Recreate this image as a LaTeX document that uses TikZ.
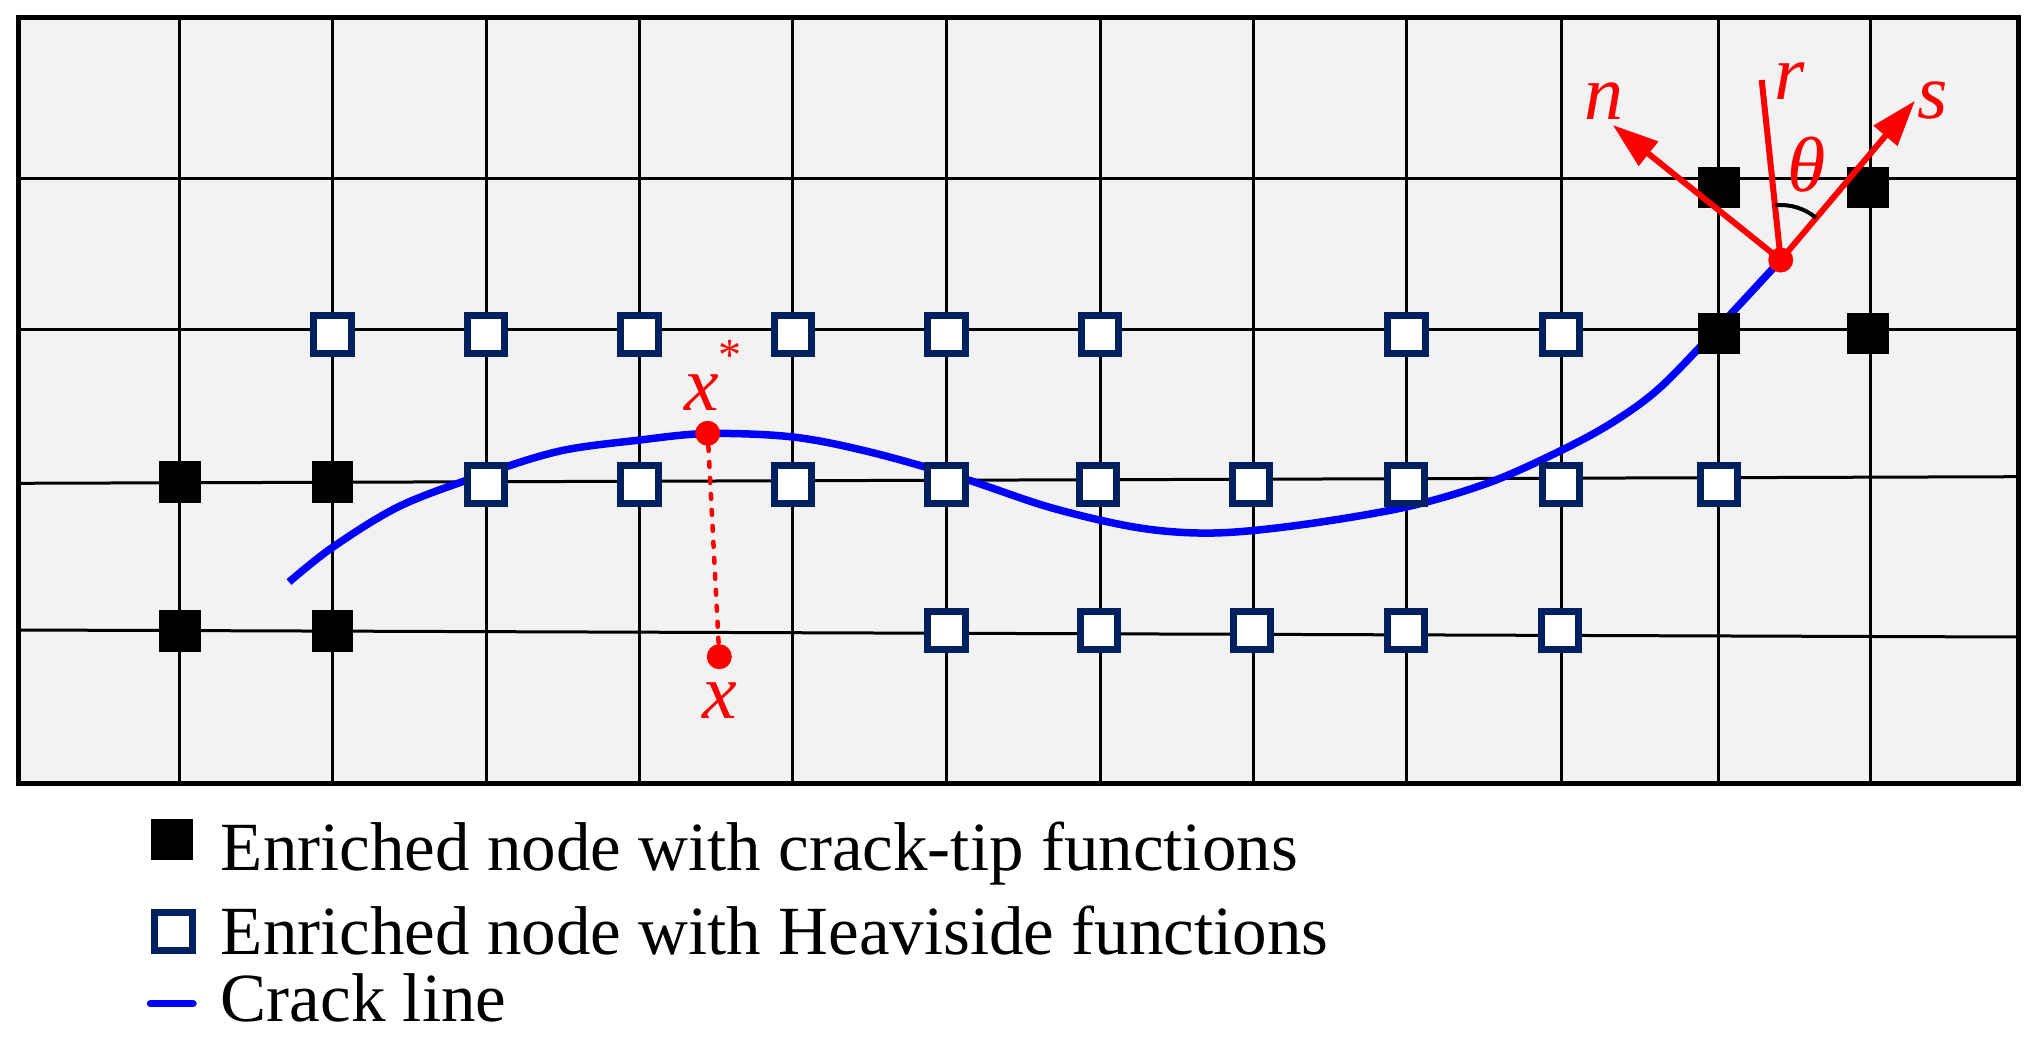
\documentclass[tikz,border=0pt]{standalone}
\usepackage{fontspec}
\setmainfont{Liberation Serif}
\usetikzlibrary{arrows.meta}
\definecolor{bgc}{HTML}{F2F2F2}
\definecolor{navy}{HTML}{002060}
\definecolor{crackblue}{HTML}{0000FF}
\definecolor{redc}{HTML}{FF0000}
\begin{document}
\begin{tikzpicture}[x=1pt, y=-1pt,
  gridline/.style={line width=3pt, black},
  frameline/.style={line width=5pt, black, line join=miter},
  tipnode/.style={fill=black, draw=none, minimum size=41.5pt, inner sep=0pt, outer sep=0pt},
  hvnode/.style={draw=navy, fill=white, line width=7pt, minimum width=37.6pt, minimum height=38pt, inner sep=0pt},
  crack/.style={crackblue, line width=7.5pt},
  dotnode/.style={circle, fill=redc, draw=none, minimum size=25pt, inner sep=0pt},
  vec/.style={redc, line width=6pt, -{Triangle[length=46pt, width=30pt]}},
  rline/.style={redc, line width=6pt},
  thetaarc/.style={black, line width=4pt},
  proj/.style={redc, line width=4.5pt, line cap=round, dash pattern=on 5pt off 11pt},
  lbl/.style={text=redc, inner sep=0pt, font=\fontsize{78}{78}\selectfont\itshape},
  legtext/.style={inner sep=0pt, font=\fontsize{69}{69}\selectfont, anchor=base west},
]
\useasboundingbox (0,0) rectangle (2036,1043);
% mesh
\fill[bgc] (18,18) rectangle (2018,783);
\foreach \cx in {179.5,332.6,486.1,639.7,792.9,946.4,1100,1253,1406.5,1561,1718.8,1870}
  \draw[gridline] (\cx,18) -- (\cx,783);
\draw[gridline] (18,178.3) -- (2018,178.3);
\draw[gridline] (18,329) -- (2018,329);
\draw[gridline] (18,483.3) -- (2018,476.7);
\draw[gridline] (18,630) -- (2018,637);
\draw[frameline] (18,18) rectangle (2018,783);
% crack line
\draw[crack] plot[smooth, tension=0.55] coordinates {(289,582) (333,547) (400,506) (482,475) (560,451) (640,440) (708,433.5) (793,437) (870,452) (962,478) (1052,508) (1140,528) (1214,533) (1300,525) (1406,507) (1488,483) (1558,452) (1610,424) (1655,392) (1700,347) (1780.7,260)};
% crack-tip enriched nodes
\node[tipnode] (t1) at (1719,187.5) {};
\node[tipnode] (t2) at (1868,187.5) {};
\node[tipnode] (t3) at (1719,333.5) {};
\node[tipnode] (t4) at (1868,333.5) {};
\node[tipnode] (t5) at (180,481.8) {};
\node[tipnode] (t6) at (332.6,481.8) {};
\node[tipnode] (t7) at (180,630.8) {};
\node[tipnode] (t8) at (332.6,630.8) {};
% Heaviside enriched nodes
\foreach \cx [count=\i] in {332.6,486.1,639.7,792.9,946.4,1100,1406.5,1561}
  \node[hvnode] (ha\i) at (\cx,334) {};
\foreach \cx [count=\i] in {486.1,639.7,792.9,946.4,1098,1251,1406,1561,1719}
  \node[hvnode] (hb\i) at (\cx,484.8) {};
\foreach \cx [count=\i] in {946.4,1099,1252,1406,1560}
  \node[hvnode] (hc\i) at (\cx,630.8) {};
% projection x -> x*
\node[dotnode] (xs) at (707.7,433.3) {};
\node[dotnode] (xp) at (719.3,656.7) {};
\draw[proj] (xs) -- (xp);
% crack tip local frame
\node[dotnode] (tip) at (1780.7,260) {};
\coordinate (nend) at (1612.7,125);
\coordinate (send) at (1915,100.7);
\coordinate (rend) at (1761.7,80);
\draw[vec] (tip.center) -- (nend);
\draw[vec] (tip.center) -- (send);
\draw[rline] (tip.center) -- (rend);
\draw[thetaarc] (tip.center) ++(-95.5:55) arc[start angle=-95.5, end angle=-50.1, radius=55];
% labels
\node[lbl, anchor=base west] (xslab) at (684,410) {x\raisebox{40pt}{\upshape\fontsize{46}{46}\selectfont *}};
\node[lbl, anchor=base] (xlab) at (720,718.3) {x};
\node[lbl, anchor=base] (nlab) at (1604,120) {n};
\node[lbl, anchor=base] (rlab) at (1790,100) {r};
\node[lbl, anchor=base] (slab) at (1932.3,118.3) {s};
\node[lbl, anchor=base] (thlab) at (1806.5,191.7) {θ};
% legend
\node[tipnode] (legtip) at (172,839.5) {};
\node[hvnode] (leghv) at (173.2,931.7) {};
\coordinate (lc1) at (150.5,1003.7);
\coordinate (lc2) at (193,1003.7);
\draw[crack, line cap=round] (lc1) -- (lc2);
\node[legtext] (legt1) at (220.7,870) {Enriched node with crack-tip functions};
\node[legtext] (legt2) at (220.7,954) {Enriched node with Heaviside functions};
\node[legtext] (legt3) at (220.7,1021.7) {Crack line};
\end{tikzpicture}
\end{document}
